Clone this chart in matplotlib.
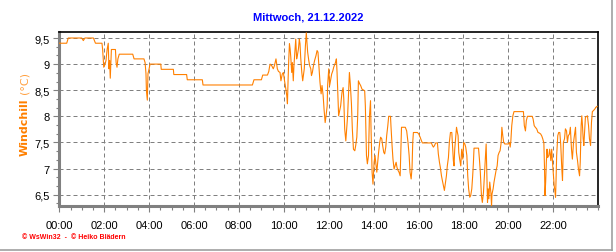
import matplotlib
matplotlib.use("Agg")
import matplotlib.pyplot as plt
from matplotlib.lines import Line2D
from matplotlib.ticker import MultipleLocator

# Zeit in Stunden, Windchill in °C
hours = [
    0.00, 0.33, 0.40, 1.00, 1.07, 1.14, 1.52, 1.61, 1.90, 1.93, 1.98, 2.04, 2.08, 2.13,
    2.18, 2.21, 2.24, 2.27, 2.32, 2.50, 2.53, 2.57, 2.61, 2.67, 3.27, 3.33, 3.77, 3.82,
    3.86, 3.88, 3.92, 3.95, 4.00, 4.04, 4.52, 4.54, 5.08, 5.10, 5.67, 5.70, 6.37, 6.40,
    8.60, 8.67, 9.00, 9.06, 9.27, 9.33, 9.36, 9.39, 9.46, 9.53, 9.58, 9.65, 9.71, 9.76,
    9.83, 9.87, 9.93, 9.98, 10.02, 10.08, 10.13, 10.16, 10.19, 10.22, 10.25, 10.28, 10.31,
    10.35, 10.38, 10.42, 10.45, 10.50, 10.53, 10.57, 10.60, 10.65, 10.69, 10.72, 10.75,
    10.80, 10.84, 10.87, 10.91, 10.96, 11.00, 11.03, 11.06, 11.11, 11.15, 11.20, 11.23,
    11.27, 11.32, 11.37, 11.43, 11.48, 11.52, 11.57, 11.61, 11.66, 11.70, 11.75, 11.79,
    11.84, 11.88, 11.93, 11.95, 12.00, 12.04, 12.09, 12.13, 12.18, 12.22, 12.30, 12.34,
    12.37, 12.40, 12.44, 12.49, 12.53, 12.59, 12.64, 12.67, 12.71, 12.76, 12.80, 12.84,
    12.89, 12.92, 12.96, 13.01, 13.05, 13.10, 13.16, 13.20, 13.25, 13.29, 13.32, 13.38,
    13.42, 13.48, 13.60, 13.63, 13.68, 13.72, 13.77, 13.81, 13.86, 13.88, 13.93, 13.97,
    14.02, 14.06, 14.11, 14.14, 14.18, 14.22, 14.27, 14.31, 14.36, 14.40, 14.45, 14.49,
    14.54, 14.58, 14.63, 14.67, 14.75, 14.77, 14.82, 14.86, 14.91, 14.95, 15.00, 15.04,
    15.09, 15.13, 15.18, 15.21, 15.24, 15.41, 15.47, 15.53, 15.58, 15.62, 15.67, 15.71,
    15.74, 15.77, 15.95, 16.01, 16.07, 16.13, 16.17, 16.57, 16.62, 16.66, 16.71, 16.76,
    16.84, 16.88, 16.93, 16.97, 17.02, 17.06, 17.11, 17.15, 17.20, 17.24, 17.28, 17.33,
    17.37, 17.42, 17.48, 17.52, 17.55, 17.58, 17.61, 17.66, 17.69, 17.73, 17.76, 17.79,
    17.83, 17.88, 17.92, 17.97, 18.01, 18.06, 18.10, 18.15, 18.19, 18.23, 18.28, 18.32,
    18.37, 18.41, 18.44, 18.47, 18.67, 18.71, 18.75, 18.80, 18.84, 18.89, 18.93, 18.98,
    19.01, 19.04, 19.07, 19.10, 19.13, 19.17, 19.22, 19.25, 19.27, 19.32, 19.36, 19.41,
    19.45, 19.50, 19.54, 19.59, 19.63, 19.68, 19.71, 19.75, 19.79, 19.84, 20.00, 20.05,
    20.08, 20.11, 20.15, 20.20, 20.25, 20.67, 20.71, 20.76, 20.80, 20.85, 21.06, 21.10,
    21.15, 21.20, 21.26, 21.32, 21.38, 21.44, 21.49, 21.53, 21.58, 21.61, 21.63, 21.66,
    21.69, 21.72, 21.75, 21.80, 21.84, 21.89, 21.93, 21.96, 22.01, 22.04, 22.07, 22.10,
    22.12, 22.15, 22.20, 22.24, 22.29, 22.33, 22.38, 22.41, 22.45, 22.50, 22.54, 22.59,
    22.63, 22.67, 22.72, 22.76, 22.81, 22.85, 22.90, 22.94, 22.99, 23.03, 23.08, 23.12,
    23.17, 23.20, 23.24, 23.27, 23.30, 23.33, 23.36, 23.40, 23.43, 23.52, 23.57, 23.61,
    23.66, 23.70, 23.74, 23.79, 23.85, 23.89, 23.95,
]
windchill = [
    9.40, 9.40, 9.50, 9.50, 9.45, 9.50, 9.50, 9.40, 9.40, 9.28, 8.94, 9.00, 9.07, 9.28,
    9.40, 8.91, 9.07, 8.73, 9.28, 9.28, 9.03, 8.94, 9.10, 9.19, 9.19, 9.10, 9.10, 9.03,
    8.82, 8.49, 8.31, 8.82, 8.91, 9.00, 9.00, 8.90, 8.90, 8.80, 8.80, 8.70, 8.70, 8.60,
    8.60, 8.70, 8.70, 8.79, 8.79, 8.86, 8.94, 9.00, 8.97, 8.91, 8.97, 9.10, 8.91, 8.86,
    8.84, 8.68, 8.81, 8.84, 8.71, 8.55, 8.40, 8.24, 8.71, 9.10, 9.39, 9.29, 9.13,
    8.84, 9.03, 8.68, 8.97, 9.29, 9.48, 9.10, 9.16, 9.29, 9.48, 9.39, 9.13,
    8.84, 8.68, 8.78, 8.91, 9.35, 9.60, 9.42, 9.23, 9.07, 8.97, 8.91, 8.78,
    8.84, 8.97, 9.07, 9.16, 9.26, 9.23, 8.91, 8.65, 8.43, 8.59, 8.40, 8.14,
    7.88, 8.01, 8.20, 8.59, 8.91, 8.59, 8.71, 8.81, 8.87, 8.94, 9.03, 9.10,
    8.84, 8.46, 8.01, 8.11, 8.20, 8.46, 8.55, 8.33, 7.76, 7.53, 7.76, 8.01,
    8.55, 8.84, 8.62, 8.24, 7.76, 7.37, 7.34, 7.44, 7.60, 8.01, 8.68, 8.62,
    8.59, 8.52, 8.49, 8.20, 7.25, 7.09, 7.25, 7.98, 8.30, 7.82, 6.93, 6.70,
    7.12, 7.25, 7.05, 6.93, 7.12, 7.31, 7.50, 7.60, 7.57, 7.44, 7.31, 7.28,
    7.41, 7.63, 7.82, 8.00, 8.00, 7.82, 7.44, 7.18, 6.99, 7.05, 7.12, 7.02,
    6.96, 6.93, 6.86, 7.34, 7.79, 7.79, 7.72, 7.50, 7.25, 6.93, 6.80, 7.02,
    7.50, 7.69, 7.69, 7.66, 7.60, 7.53, 7.49, 7.49, 7.44, 7.41, 7.44, 7.49,
    7.49, 7.28, 7.12, 7.02, 6.86, 6.77, 6.67, 6.58, 6.74, 6.86, 7.05, 7.21,
    7.50, 7.69, 7.69, 7.37, 7.15, 7.05, 7.37, 7.63, 7.79, 7.69, 7.63, 7.31,
    7.18, 7.05, 7.37, 7.18, 7.50, 7.47, 7.41, 7.25, 6.86, 6.61, 6.45, 6.48,
    6.61, 6.86, 7.09, 7.39, 7.39, 7.18, 6.93, 6.48, 6.35, 6.54, 6.86, 7.28,
    7.47, 6.93, 6.35, 6.61, 6.42, 6.74, 6.54, 6.29, 6.51, 6.61, 6.74, 6.86,
    6.96, 7.05, 7.25, 7.31, 7.34, 7.50, 7.79, 7.63, 7.50, 7.47, 7.47, 7.50,
    7.41, 7.53, 7.82, 8.01, 8.09, 8.09, 7.82, 7.72, 7.92, 8.00, 8.00, 7.95,
    7.82, 7.79, 7.76, 7.69, 7.68, 7.66, 7.62, 7.57, 7.49, 6.99, 6.48, 6.74,
    7.12, 7.37, 7.21, 7.25, 7.37, 7.15, 7.37, 7.15, 6.86, 6.67, 6.58, 6.45,
    6.74, 7.25, 7.63, 7.69, 7.69, 7.47, 6.99, 6.77, 7.50, 7.57, 7.76, 7.72,
    7.50, 7.63, 7.66, 7.79, 7.37, 7.18, 7.50, 7.63, 7.79, 7.31, 7.15, 6.99,
    6.86, 7.12, 7.82, 8.01, 7.82, 7.57, 7.44, 7.76, 7.98, 8.01, 7.82, 7.57,
    7.44, 7.88, 8.09, 8.11, 8.14, 8.17, 8.19,
]

y_ticks = [6.5, 7.0, 7.5, 8.0, 8.5, 9.0, 9.5]
y_tick_labels = ["6,5", "7", "7,5", "8", "8,5", "9", "9,5"]
x_ticks = [0, 2, 4, 6, 8, 10, 12, 14, 16, 18, 20, 22]
x_tick_labels = ["00:00", "02:00", "04:00", "06:00", "08:00", "10:00",
                 "12:00", "14:00", "16:00", "18:00", "20:00", "22:00"]

title = "Mittwoch, 21.12.2022"
orange = "#FF8000"
grid_gray = "#808080"

plt.rcParams["font.family"] = ["Liberation Sans", "DejaVu Sans"]

fig = plt.figure(figsize=(6.16, 2.53), dpi=100)
fig.patch.set_facecolor("white")
ax = fig.add_axes([59.3 / 616, 1 - 207 / 253, (598.2 - 59.3) / 616, (207 - 33) / 253])

ax.plot(hours, windchill, color=orange, linewidth=0.8, zorder=3)

ax.set_xlim(0, 24)
ax.set_ylim(6.282, 9.615)

# Gitter
for yv in y_ticks:
    ax.axhline(yv, color=grid_gray, linewidth=0.72, linestyle=(0, (4, 3)), zorder=1)
for xv in x_ticks[1:]:
    ax.axvline(xv, color=grid_gray, linewidth=0.72, linestyle=(0, (4, 3)), zorder=1)

ax.set_xticks(x_ticks)
ax.set_xticklabels(x_tick_labels, fontsize=8)
ax.xaxis.set_minor_locator(MultipleLocator(0.5))
ax.set_yticks(y_ticks)
ax.set_yticklabels(y_tick_labels, fontsize=8)
ax.yaxis.set_minor_locator(MultipleLocator(0.5 / 3))

ax.tick_params(axis="x", which="major", length=4, width=0.8, color=grid_gray, pad=6)
ax.tick_params(axis="x", which="minor", length=3, width=0.8, color=grid_gray)
ax.tick_params(axis="y", which="major", length=4, width=0.8, color=grid_gray, pad=3)
ax.tick_params(axis="y", which="minor", length=2, width=0.8, color=grid_gray)

for side in ["left", "bottom"]:
    ax.spines[side].set_color(grid_gray)
    ax.spines[side].set_linewidth(2.2)
for side in ["top", "right"]:
    ax.spines[side].set_color("black")
    ax.spines[side].set_linewidth(1.2)

# Titel und Achsenbeschriftung
fig.text(308 / 616, 1 - 18 / 253, title, color="#0000FF", fontsize=8,
         fontweight="bold", ha="center", va="center")
fig.text(25 / 616, 1 - 127 / 253, "Windchill", color=orange, fontsize=8,
         fontweight="bold", rotation=90, ha="center", va="center",
         family=["DejaVu Sans"])
fig.text(25 / 616, 1 - 83 / 253, "(°C)", color="#FFA040", fontsize=8,
         rotation=90, ha="center", va="center", family=["DejaVu Sans"])

fig.text(22 / 616, 1 - 238 / 253, "© WsWin32  -  © Heiko Blädern", color="red",
         fontsize=5, fontweight="bold", ha="left", va="center")

# Rahmen
fig.add_artist(Line2D([612 / 616, 612 / 616], [1 - 251 / 253, 1], color="#A0A0A0", linewidth=1.2))
fig.add_artist(Line2D([0, 612 / 616], [1 - 251 / 253, 1 - 251 / 253], color="#A0A0A0", linewidth=1.2))

fig.savefig("out.png", dpi=100, facecolor="white")
